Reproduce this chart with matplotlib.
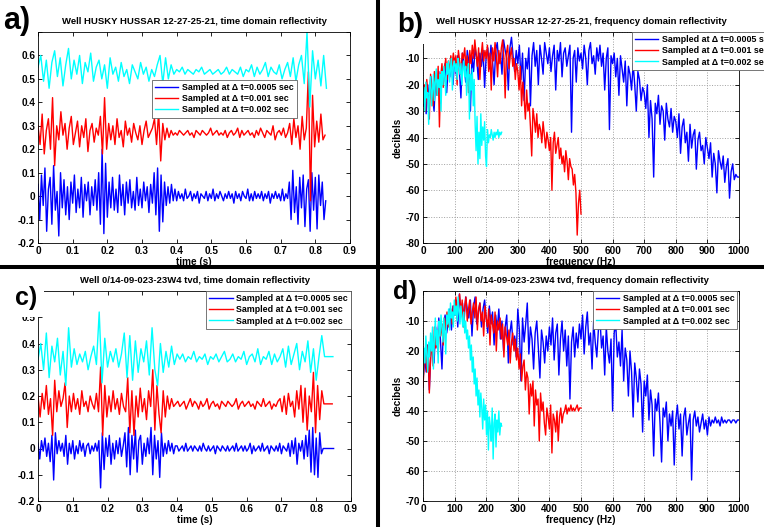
import numpy as np
import matplotlib
matplotlib.use("Agg")
import matplotlib.pyplot as plt
from matplotlib.lines import Line2D

plt.rcParams['font.family'] = ['Liberation Sans', 'DejaVu Sans']
plt.rcParams['font.weight'] = 'bold'
plt.rcParams['axes.titleweight'] = 'bold'
plt.rcParams['axes.labelweight'] = 'bold'
plt.rcParams['axes.unicode_minus'] = False

labels = ['Sampled at \u0394 t=0.0005 sec', 'Sampled at \u0394 t=0.001 sec', 'Sampled at \u0394 t=0.002 sec']
colors = ['#0000ff', '#ff0000', '#00ffff']

# ---- panel a: HUSKY HUSSAR time domain (values in 1/100) ----
a_step = [0.005, 0.006, 0.008]
a_blue = [5, -10, 9, -4, 12, -15, 3, 8, -12, 13, -6, 2, -17, 10, -5,
          7, -8, 4, -10, 6, -3, 9, -7, 3, -5, 8, -9, 5, -2, 6, -8, 4, -4, 7, -6,
          10, -12, 20, -16, 14, -9, 6, -5,
          8, -6, 3, -7, 9, -4, 5, -8, 6, -3, 7, -5, 2, -6, 8, -4, 3, -5, 6, -2, 4, -7, 5, -3,
          10, -8, 12, -15, 9, -11, 6, -4,
          4, -3, 5, -2, 3, -2,
          2, -1, 1, -2, 3, -1, 0, 2, -2, 1, -1, 2, -3, 1, 0, -1, 2, -2, 1, -1, 3, -2, 1, -1, 2, 0, -2, 1, -1, 2, -1, 1,
          -3, 2, -1, 1, -2, 2, 0, -1, 3, -2, 1, -2, 2, -1, 1, -1, 2, -2, 1, -1, 2, -3, 1, -1, 2, -1, 1, -2, 3, -2, 1, -1,
          6, -10, 11, -7, 4, -12, 8, -5, 9, -13, 3, 7, -15, 10, -6, 8, -14, 9, -4, 6, -10, -2]
a_red = [30, 22, 35, 18, 28, 33, 20, 42, 13, 30, 24, 36,
         26, 31, 20, 29, 34, 22, 27, 32, 21, 30, 25, 33, 19, 28, 31, 23, 29, 26,
         34, 18, 42, 20, 31, 24,
         30, 22, 33, 25, 28, 21, 32, 26, 29, 23, 31, 27, 24, 30, 22, 28, 32, 25, 27, 29,
         33, 22, 36, 15, 31, 24, 29, 25, 28, 26,
         27, 26, 28, 27, 26, 27, 28, 26, 27, 25, 28, 27, 26, 28, 27, 26, 27, 29, 26, 27, 28, 26, 27, 26, 28, 25, 27,
         28, 26, 27, 29, 25, 28, 26, 27, 28, 26, 27, 25, 28, 26, 29, 27, 25, 28, 27, 26, 30, 24, 27, 28, 26, 29, 25, 27,
         31, 22, 33, 25, 30, 20, 34, 24, 29, 53, -2, 43, 21, 32, 23, 35, 24, 26]
a_cyan = [55, 60, 49, 58, 46, 57, 62, 51, 59, 47, 56, 63, 50, 58, 52, 60, 48, 57, 53, 61, 49, 55,
          58, 50, 56, 46, 59, 52, 55, 49, 57, 51, 54, 48, 56, 53, 50, 57, 52, 55, 49, 54, 51, 56,
          60, 48, 59, 50, 56, 52,
          54, 53, 55, 52, 54, 53, 52, 54, 53, 55, 52, 53, 54, 52, 53, 54, 52, 53, 55, 52,
          54, 53, 52, 55, 51, 54, 53, 56, 51, 55, 52, 54, 57, 51, 55, 53, 52, 56, 50, 54,
          57, 51, 59, 49, 56, 60, 48, 70, 38, 62, 50, 58, 47, 60, 46]

# ---- panel b: HUSKY HUSSAR frequency domain (dB) ----
b_step = [5, 4, 3]
b_blue = [-28, -22, -31, -20, -26, -17, -24, -30, -18, -22, -15, -27, -14, -19, -12, -23, -13, -17, -11, -20,
          -10, -16, -9, -14, -25, -8, -12, -19, -7, -11, -30, -9, -15, -6, -10, -18, -8, -13, -7, -21,
          -9, -6, -14, -5, -11, -20, -7, -4, -12, -8, -16, -3, -7, -10, -22, -6, -2, -9, -15, -7,
          -12, -5, -18, -8, -26, -10, -14, -6, -28, -9, -4, -13, -7, -20, -5, -10, -16, -4, -8, -12,
          -6, -15, -9, -5, -22, -7, -11, -4, -17, -8, -6, -13, -9, -5, -38, -10, -7, -19, -6, -11,
          -8, -14, -5, -10, -20, -7, -4, -12, -9, -16, -6, -11, -5, -13, -8, -22, -10, -6, -37, -9,
          -12, -8, -17, -10, -24, -9, -14, -19, -11, -28, -13, -16, -22, -12, -20, -30, -15, -18, -26, -21,
          -23, -29, -20, -40, -26, -33, -55, -27, -31, -24, -35, -28, -30, -41, -27, -33, -36, -29, -38, -32,
          -34, -40, -31, -46, -36, -33, -42, -38, -49, -35, -44, -39, -37, -52, -41, -38, -45, -43, -50, -40,
          -44, -48, -42, -55, -46, -50, -61, -45, -49, -52, -47, -57, -51, -48, -63, -53, -50, -56, -54, -55,
          -55]
b_red = [-26, -20, -30, -18, -25, -33, -16, -22, -28, -15, -19, -24, -13, -36, -17, -12, -21, -14, -10, -18, -11, -15, -9, -13, -8,
         -12, -9, -20, -7, -11, -16, -8, -10, -6, -14, -9, -23, -7, -12, -5, -10, -3, -8, -13, -6, -18, -9, -4, -11, -7,
         -10, -5, -15, -8, -22, -6, -11, -4, -9, -17, -7, -12, -6, -3, -10, -25, -8, -5, -14, -9, -6, -13, -10, -18, -12,
         -15, -22, -13, -28, -19, -25, -33, -22, -30, -27, -36, -47, -29, -33, -38, -31, -40, -35, -37, -42, -34, -39, -44, -38, -41,
         -45, -40, -60, -42, -38, -46, -43, -40, -48, -44, -50, -47, -53, -45, -49, -56, -48, -51, -52, -58, -54, -61, -77, -65, -60, -69]
b_cyan = [-27, -21, -30, -19, -25, -23, -35, -20, -17, -28, -22, -16, -26, -19, -14, -24, -18, -21, -16, -30,
          -15, -20, -13, -17, -24, -12, -16, -11, -19, -14, -10, -22, -13, -11, -15, -12, -18, -10, -13, -16,
          -12, -20, -14, -11, -17, -13, -24, -15, -12, -33, -16, -22, -14, -28, -18, -35, -45, -32, -50, -38,
          -48, -31, -43, -36, -41, -34, -47, -51, -37, -42, -39, -40, -37, -39, -41, -38, -40, -38, -39, -37, -40, -38, -39, -38]

# ---- panel c: 0/14-09-023-23W4 time domain (values in 1/100) ----
c_step = [0.005, 0.006, 0.008]
c_blue = [2, -4, 3, -1, 4, -3, 2, -5, 5, -12, 6, -2, 3, -1, 2,
          -3, 5, -6, 2, -2, 3, -4, 1, -2, 3, -1, 2, -3, 1, 2, -2, 1, -1, 2, -1,
          3, -15, 6, -8, 4, -3, 5, -6, 2, -4, 3, -2, 4, -3, 1,
          6, -7, 8, -10, 5, -4, 7, -9, 3, 5, -6, 2, -3, 4, -2,
          8, -10, 5, -4, 3, -11, 6, -3, 2, -2, 3, -1, 2, -2, 1,
          1, -1, 0, 1, -1, 2, -1, 0, 1, -1, 1, 0, -1, 1, -1, 2, 0, -1, 1, -1, 0, 1, -2, 1, 0, -1, 1, 0, -1, 1, -1, 0,
          1, -1, 2, -1, 0, 1, -1, 1, -1, 0, 2, -2, 1, -1, 0, 1, -1, 2, -1, 0, 1, -2, 1, 0, -1, 1, -1, 2, -2, 1, 0, -1,
          2, -3, 3, -2, 4, -6, 2, -1, 3, -4, 5, -3, 7, -9, 8, -10, 4, -11, 6, -2,
          0, 0, 0, 0, 0, 0, 0]
c_red = [20, 12, 21, 15, 24, 13, 19, 5, 26, 14, 22, 16, 19, 25, 8, 20, 14,
         21, 15, 19, 13, 22, 16, 18, 14, 20, 17, 15, 21, 14,
         31, 5, 24, 12, 20, 14,
         22, 15, 19, 13, 21, 16, 14,
         27, 6, 22, 5, 20, 12,
         23, 14, 19, 11, 22, 16,
         30, 7, 24, 13, 6, 22, 12, 20, 15, 19, 16,
         17, 18, 16, 17, 18, 15, 17, 19, 16, 18, 17, 15, 18, 16, 17, 19, 15, 17, 18, 16, 17, 15, 18, 17, 16,
         18, 17, 16, 17, 19, 15, 17, 18, 16, 17, 18, 16, 17, 15, 18, 17, 16, 19, 16, 17, 18, 15, 17, 16, 18,
         19, 14, 20, 13, 21, 16, 18, 12, 22, 15, 24, 10, 23, 7, 20, 14, 29, 6, 24, 11, 22,
         17, 17, 17, 17, 17]
c_cyan = [34, 40, 30, 44, 27, 39, 33, 42, 28, 37, 24, 46, 31,
          38, 32, 36, 33, 37, 30, 35, 39, 32,
          52, 25, 42, 31, 37,
          33, 38, 31, 36,
          44, 27, 43, 26, 41, 29, 38,
          33, 41, 28, 46, 30, 24, 40, 29, 37,
          31, 39, 32, 36,
          34, 36, 33, 35, 34, 37, 33, 35, 34, 36, 32, 35, 34, 36, 33, 35, 37, 33, 34,
          36, 33, 35, 34, 37, 32, 35, 36, 33, 38, 32, 35, 34, 37, 32, 36, 33, 35,
          38, 31, 39, 32, 36, 40, 30, 37, 33, 41, 29, 38, 26, 35, 43,
          35, 35, 35, 35]

# ---- panel d: 0/14-09-023-23W4 frequency domain (dB) ----
d_step = [5, 4, 3]
d_blue = [-30, -22, -27, -18, -33, -20, -15, -24, -12, -19, -9, -16, -26, -11, -8, -14, -10, -6, -13, -5,
          -8, -3, -12, -1, -7, -4, -10, -2, -6, -9, -3, -15, -5, -2, -11, -7, -4, -12, -6, -3,
          -9, -14, -5, -11, -7, -18, -8, -13, -6, -16, -10, -20, -12, -8, -24, -14, -10, -18, -15, -22,
          -6, -13, -30, -9, -17, -11, -4, -21, -12, -16, -26, -14, -10, -19, -29, -13, -17, -24, -15, -20,
          -12, -18, -9, -23, -14, -11, -28, -16, -10, -20, -13, -25, -15, -36, -17, -12, -22, -14, -19, -11,
          -16, -8, -21, -12, -7, -18, -14, -26, -10, -17, -22, -13, -9, -19, -15, -28, -12, -20, -24, -16,
          -40, -14, -11, -22, -17, -25, -13, -30, -19, -23, -35, -20, -27, -42, -24, -29, -37, -26, -31, -47,
          -30, -35, -28, -43, -33, -38, -55, -36, -40, -34, -44, -57, -39, -42, -37, -50, -41, -45, -40, -58,
          -43, -38, -46, -41, -55, -42, -39, -48, -44, -41, -63, -43, -40, -45, -42, -47, -44, -41, -46, -43,
          -48, -42, -45, -43, -44, -42, -44, -43, -45, -42, -44, -43, -44, -43, -43, -44, -43, -43, -44, -43,
          -43]
d_red = [-32, -24, -20, -27, -18, -34, -22, -16, -25, -12, -19, -14, -21, -10, -15, -11, -18, -9, -13, -7, -12, -8, -6, -11, -5,
         -7, -2, -9, -4, -1, -8, -3, -12, -5, -2, -10, -6, -3, -11, -7, -4, -9, -2, -13, -6, -4, -10, -7, -15, -5,
         -9, -12, -6, -18, -8, -11, -14, -7, -20, -10, -13, -9, -16, -11, -22, -12, -15, -18, -13, -24, -17, -14, -20, -16, -23,
         -19, -26, -21, -30, -25, -23, -33, -27, -29, -41, -31, -35, -30, -45, -33, -38, -36, -50, -34, -40, -37, -44, -48, -39, -42,
         -46, -38, -54, -41, -43, -47, -40, -50, -42, -39, -44, -41, -40, -38, -41, -39, -40, -38, -40, -39, -40, -39, -38, -40, -39, -39]
d_cyan = [-28, -19, -24, -15, -21, -27, -17, -22, -14, -20, -12, -26, -16, -9, -18, -13, -24, -10, -15, -8,
          -12, -17, -9, -14, -21, -8, -11, -6, -13, -4, -9, -7, -12, -3, -8, -5, -10, -2, -7, -11,
          -5, -9, -12, -7, -14, -10, -16, -13, -19, -15, -23, -18, -27, -22, -31, -26, -35, -29, -38, -33,
          -42, -34, -39, -46, -36, -43, -38, -48, -40, -53, -42, -45, -50, -39, -56, -44, -41, -52, -43, -47, -40, -48, -44, -45]

time_ticks = [0, 0.1, 0.2, 0.3, 0.4, 0.5, 0.6, 0.7, 0.8, 0.9]
freq_ticks = [0, 100, 200, 300, 400, 500, 600, 700, 800, 900, 1000]


def style(ax, xticks, yticks, grid):
    ax.set_xlim(xticks[0], xticks[-1])
    ax.set_ylim(yticks[0], yticks[-1])
    ax.set_xticks(xticks)
    ax.set_xticklabels([f'{v:g}' for v in xticks])
    ax.set_yticks(yticks)
    ax.set_yticklabels([f'{v:g}' for v in yticks])
    ax.tick_params(direction='in', top=True, right=True, length=3, width=0.6,
                   labelsize=7.2, pad=2)
    for s in ax.spines.values():
        s.set_linewidth(0.6)
    if grid:
        ax.grid(True, linestyle=':', color='#a0a0a0', linewidth=0.7)


def draw(ax, series, steps, scale):
    for vals, step, col, lab in zip(series, steps, colors, labels):
        y = np.array(vals) / scale
        x = np.arange(len(y)) * step
        ax.plot(x, y, color=col, lw=1.0, label=lab)


fig = plt.figure(figsize=(7.64, 5.27), dpi=100)
W, H = 764, 527


def axes_px(l, r, t, b):
    return fig.add_axes([l / W, 1 - b / H, (r - l) / W, (b - t) / H])


ax_a = axes_px(38, 350, 32, 243)
ax_b = axes_px(423, 739, 32, 243)
ax_c = axes_px(38, 351, 291, 501)
ax_d = axes_px(423, 739, 291, 501)

draw(ax_a, [a_blue, a_red, a_cyan], a_step, 100)
style(ax_a, time_ticks, [-0.2, -0.1, 0, 0.1, 0.2, 0.3, 0.4, 0.5, 0.6, 0.7], False)
ax_a.set_title('Well HUSKY HUSSAR 12-27-25-21, time domain reflectivity', fontsize=6.8, pad=6)
ax_a.set_xlabel('time (s)', fontsize=7.2, labelpad=1)

draw(ax_b, [b_blue, b_red, b_cyan], b_step, 1)
style(ax_b, freq_ticks, [-80, -70, -60, -50, -40, -30, -20, -10, 0], True)
ax_b.set_title('Well HUSKY HUSSAR 12-27-25-21, frequency domain reflectivity', fontsize=6.8, pad=6)
ax_b.set_xlabel('frequency (Hz)', fontsize=7.2, labelpad=1)
ax_b.set_ylabel('decibels', fontsize=7.2, labelpad=2)

draw(ax_c, [c_blue, c_red, c_cyan], c_step, 100)
style(ax_c, time_ticks, [-0.2, -0.1, 0, 0.1, 0.2, 0.3, 0.4, 0.5, 0.6], False)
ax_c.set_title('Well 0/14-09-023-23W4 tvd, time domain reflectivity', fontsize=6.8, pad=6)
ax_c.set_xlabel('time (s)', fontsize=7.2, labelpad=1)

draw(ax_d, [d_blue, d_red, d_cyan], d_step, 1)
style(ax_d, freq_ticks, [-70, -60, -50, -40, -30, -20, -10, 0], True)
ax_d.set_title('Well 0/14-09-023-23W4 tvd, frequency domain reflectivity', fontsize=6.8, pad=6)
ax_d.set_xlabel('frequency (Hz)', fontsize=7.2, labelpad=1)
ax_d.set_ylabel('decibels', fontsize=7.2, labelpad=2)

leg_kw = dict(fontsize=6.4, frameon=True, fancybox=False, framealpha=1, edgecolor='#606060',
              handlelength=2.6, borderpad=0.35, labelspacing=0.25, handletextpad=0.4, borderaxespad=0)
for ax, loc, anchor in [(ax_a, 'upper left', (0.365, 0.773)),
                        (ax_b, 'upper left', (0.661, 1.0)),
                        (ax_c, 'upper right', (1.0, 1.0)),
                        (ax_d, 'upper right', (0.995, 1.0))]:
    leg = ax.legend(loc=loc, bbox_to_anchor=anchor, **leg_kw)
    leg.get_frame().set_linewidth(0.6)

# panel letters, each on a white patch that hides the top corner of its axes
for txt, x, y, size, pad in [('a)', 3, 21, 22, 5), ('b)', 397, 25, 20, 4),
                             ('c)', 15, 298, 18, 5), ('d)', 393, 292, 18, 4)]:
    fig.text(x / W, 1 - y / H, txt, fontsize=size, weight='bold', ha='left', va='center',
             bbox=dict(facecolor='white', edgecolor='none', pad=pad), zorder=5)

# black separators between the four panels
fig.add_artist(Line2D([378 / W, 378 / W], [0, 1], color='black', lw=2.9, zorder=10))
fig.add_artist(Line2D([0, 1], [1 - 267 / H, 1 - 267 / H], color='black', lw=2.9, zorder=10))

fig.savefig('out.png', dpi=100)
